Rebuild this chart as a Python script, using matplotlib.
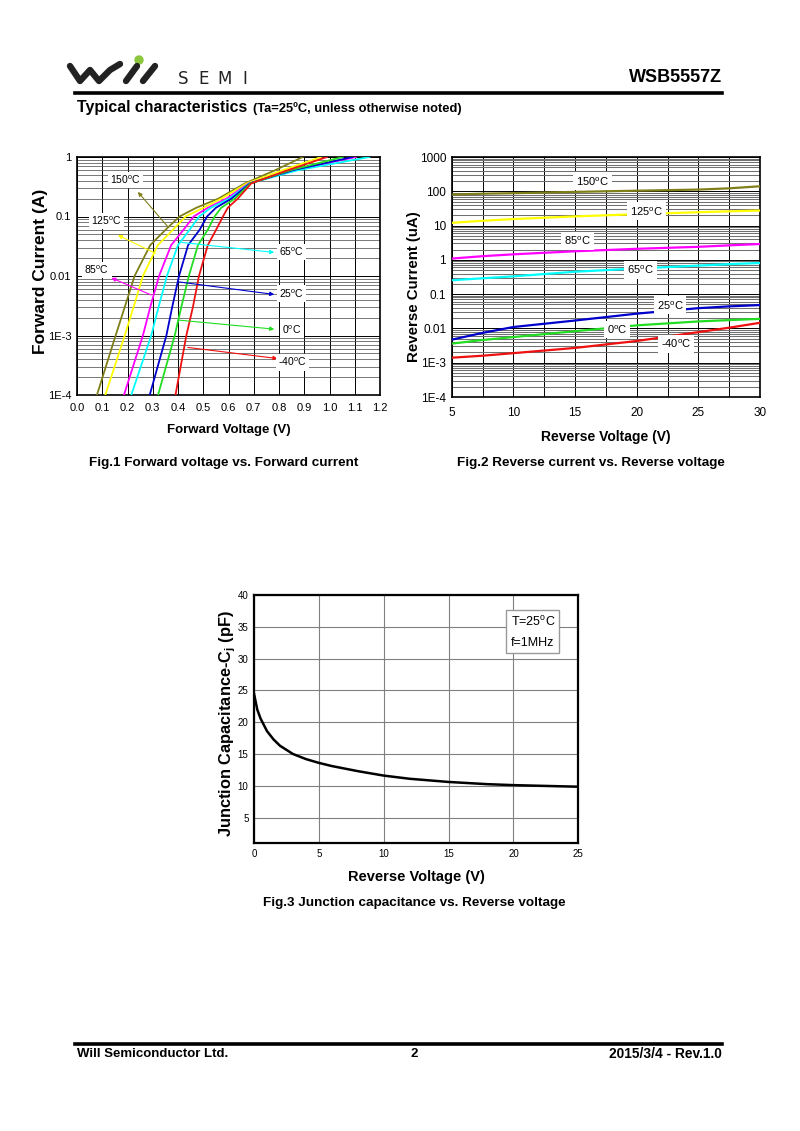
import numpy as np
import matplotlib
matplotlib.use("Agg")
import matplotlib.pyplot as plt
from matplotlib.patches import Circle

plt.rcParams['font.family'] = ['Liberation Sans', 'DejaVu Sans']
plt.rcParams['mathtext.fontset'] = 'custom'
plt.rcParams['mathtext.rm'] = 'Liberation Sans'
plt.rcParams['mathtext.bf'] = 'Liberation Sans:bold'

#%% data read from the datasheet page
# Fig.1 forward current (A) vs forward voltage (V), one voltage list per temperature
fv_current = [1e-4, 1e-3, 3e-3, 0.01, 0.033, 0.06, 0.1, 0.14, 0.2, 0.36, 0.6, 1.0]
fv_150 = [0.079, 0.153, 0.189, 0.228, 0.290, 0.351, 0.406, 0.472, 0.560, 0.665, 0.785, 0.894]
fv_125 = [0.112, 0.189, 0.224, 0.261, 0.320, 0.380, 0.430, 0.500, 0.572, 0.672, 0.815, 0.967]
fv_85 = [0.186, 0.261, 0.290, 0.325, 0.373, 0.422, 0.462, 0.518, 0.592, 0.680, 0.860, 1.105]
fv_65 = [0.215, 0.294, 0.323, 0.356, 0.400, 0.446, 0.484, 0.530, 0.603, 0.683, 0.875, 1.158]
fv_25 = [0.288, 0.354, 0.377, 0.404, 0.440, 0.486, 0.515, 0.550, 0.612, 0.685, 0.855, 1.092]
fv_0 = [0.321, 0.387, 0.413, 0.443, 0.479, 0.518, 0.545, 0.571, 0.625, 0.687, 0.845, 1.053]
fv_m40 = [0.390, 0.433, 0.459, 0.483, 0.518, 0.551, 0.578, 0.597, 0.637, 0.690, 0.835, 0.990]

# Fig.2 reverse current (uA) vs reverse voltage (V)
rv_volt = [5, 7.5, 10, 15, 20, 25, 27.5, 30]
ir_150 = [80, 85, 88, 96, 104, 112, 122, 140]
ir_125 = [12, 13.8, 15.5, 18.5, 21.5, 24.5, 26, 27.5]
ir_85 = [1.09, 1.28, 1.45, 1.78, 2.1, 2.4, 2.65, 2.9]
ir_65 = [0.254, 0.29, 0.33, 0.45, 0.56, 0.68, 0.75, 0.81]
ir_25 = [0.0047, 0.0074, 0.011, 0.017, 0.027, 0.039, 0.044, 0.048]
ir_0 = [0.0036, 0.0046, 0.0056, 0.0083, 0.0123, 0.016, 0.0175, 0.019]
ir_m40 = [0.0014, 0.0016, 0.0019, 0.0027, 0.0043, 0.0078, 0.0105, 0.0146]

# Fig.3 junction capacitance (pF) vs reverse voltage (V)
cj_volt = [0, 0.25, 0.5, 1, 1.5, 2, 3, 4, 5, 6, 8, 10, 12, 15, 18, 20, 22, 25]
cj_pf = [24.5, 22.0, 20.6, 18.6, 17.3, 16.3, 15.0, 14.2, 13.6, 13.1, 12.3, 11.6,
         11.1, 10.6, 10.25, 10.1, 10.0, 9.85]

temps = ['150', '125', '85', '65', '25', '0', '-40']
colors = ['#7f7f1a', '#ffff00', '#ff00ff', '#00ffff', '#0000cc', '#22dd22', '#ee1111']

# label position, arrow head (at label), arrow tail (on curve)
fv_labels = {
    '150': ((0.192, 0.41), (0.241, 0.259), (0.36, 0.067)),
    '125': ((0.116, 0.084), (0.162, 0.0486), (0.311, 0.024)),
    '85': ((0.079, 0.0126), (0.136, 0.0093), (0.294, 0.0048)),
    '65': ((0.851, 0.0255), (0.781, 0.0249), (0.416, 0.0366)),
    '25': ((0.851, 0.0051), (0.781, 0.0049), (0.399, 0.008)),
    '0': ((0.851, 0.00127), (0.781, 0.00128), (0.399, 0.00182)),
    '-40': ((0.854, 3.55e-4), (0.794, 4.1e-4), (0.439, 6.3e-4)),
}
ir_labels = {'150': (16.4, 195), '125': (20.8, 26), '85': (15.2, 3.5), '65': (20.3, 0.52),
             '25': (22.7, 0.047), '0': (18.4, 0.0093), '-40': (23.2, 0.0036)}


def deg(t):
    return t + r'$^{\mathrm{o}}$C'


fig = plt.figure(figsize=(8, 11.31), dpi=100, facecolor='white')

# page decoration in pixel coordinates
page = fig.add_axes([0, 0, 1, 1])
page.set_xlim(0, 800)
page.set_ylim(1131, 0)
page.axis('off')
page.plot([70, 80, 90, 99, 110, 120], [66, 81, 70, 81, 70, 64], color='#222', lw=4.6,
          solid_joinstyle='round', solid_capstyle='round')
page.plot([126, 137], [81, 66], color='#222', lw=4.6, solid_capstyle='round')
page.plot([143, 155], [81, 66], color='#222', lw=4.6, solid_capstyle='round')
page.add_patch(Circle((139, 60), 4, color='#8cc63f'))
for letter, xpos in zip('SEMI', [178, 198, 217, 242]):
    page.text(xpos, 78.5, letter, fontsize=12, va='center', ha='left', color='#222',
              family='DejaVu Sans')
page.text(722, 77, 'WSB5557Z', fontsize=13, fontweight='bold', va='center', ha='right')
page.plot([75, 722], [93, 93], color='black', lw=2.6)
page.text(77, 107.5, 'Typical characteristics', fontsize=11.4, fontweight='bold', va='center')
page.text(253, 108.5, '(Ta=25ºC, unless otherwise noted)', fontsize=9.3, fontweight='bold',
          va='center')
page.plot([75, 722], [1044, 1044], color='black', lw=2.6)
page.text(77, 1054, 'Will Semiconductor Ltd.', fontsize=9.5, fontweight='bold', va='center')
page.text(414, 1054, '2', fontsize=9.5, fontweight='bold', va='center', ha='center')
page.text(722, 1054, '2015/3/4 - Rev.1.0', fontsize=9.9, fontweight='bold', va='center',
          ha='right')
page.text(224, 463, 'Fig.1 Forward voltage vs. Forward current', fontsize=9.7,
          fontweight='bold', ha='center', va='center')
page.text(591, 463, 'Fig.2 Reverse current vs. Reverse voltage', fontsize=9.7,
          fontweight='bold', ha='center', va='center')
page.text(414, 903, 'Fig.3 Junction capacitance vs. Reverse voltage', fontsize=9.7,
          fontweight='bold', ha='center', va='center')

#%% Fig.1
ax1 = fig.add_axes([77 / 800, 1 - 395 / 1131, 303 / 800, 238 / 1131])
ax1.set_yscale('log')
fv_all = [fv_150, fv_125, fv_85, fv_65, fv_25, fv_0, fv_m40]
for t, c, v in zip(temps, colors, fv_all):
    ax1.plot(v, fv_current, color=c, lw=1.3, zorder=3)
for t, c in zip(temps, colors):
    lab, head, tail = fv_labels[t]
    ax1.annotate('', xy=head, xytext=tail, zorder=4,
                 arrowprops=dict(arrowstyle='-|>', color=c, lw=0.8, mutation_scale=6,
                                 shrinkA=0, shrinkB=0))
    ax1.text(lab[0], lab[1], deg(t), fontsize=7.5, ha='center', va='center', zorder=5,
             bbox=dict(facecolor='white', edgecolor='none', pad=1.5))
ax1.set_xlim(0, 1.2)
ax1.set_ylim(1e-4, 1)
ax1.set_xticks(np.arange(0, 1.21, 0.1))
ax1.set_xticklabels([f'{x:.1f}' for x in np.arange(0, 1.21, 0.1)])
ax1.set_yticks([1e-4, 1e-3, 1e-2, 0.1, 1])
ax1.set_yticklabels(['1E-4', '1E-3', '0.01', '0.1', '1'])
ax1.grid(True, which='major', color='black', lw=0.7)
ax1.grid(True, which='minor', axis='y', color='#444', lw=0.5)
ax1.tick_params(which='both', length=0, labelsize=8, pad=4)
ax1.tick_params(axis='x', pad=6)
ax1.tick_params(axis='y', which='minor', labelleft=False)
for s in ax1.spines.values():
    s.set_linewidth(1.2)
ax1.set_xlabel('Forward Voltage (V)', fontsize=9.5, fontweight='bold', labelpad=8)
ax1.set_ylabel('Forward Current (A)', fontsize=12.5, fontweight='bold')
ax1.yaxis.set_label_coords(-0.096, 0.52)

#%% Fig.2
ax2 = fig.add_axes([451.7 / 800, 1 - 397 / 1131, 308.3 / 800, 240 / 1131])
ax2.set_yscale('log')
ir_all = [ir_150, ir_125, ir_85, ir_65, ir_25, ir_0, ir_m40]
for t, c, i in zip(temps, colors, ir_all):
    ax2.plot(rv_volt, i, color=c, lw=1.6, zorder=3)
    x, y = ir_labels[t]
    ax2.text(x, y, deg(t), fontsize=8, ha='center', va='center', zorder=5,
             bbox=dict(facecolor='white', edgecolor='none', pad=2))
ax2.set_xlim(5, 30)
ax2.set_ylim(1e-4, 1000)
ax2.set_xticks([5, 10, 15, 20, 25, 30])
ax2.set_xticks([7.5, 12.5, 17.5, 22.5, 27.5], minor=True)
ax2.set_yticks([1e-4, 1e-3, 1e-2, 0.1, 1, 10, 100, 1000])
ax2.set_yticklabels(['1E-4', '1E-3', '0.01', '0.1', '1', '10', '100', '1000'])
ax2.grid(True, which='major', color='black', lw=0.7)
ax2.grid(True, which='minor', axis='x', color='black', lw=0.7)
ax2.grid(True, which='minor', axis='y', color='#707070', lw=0.75)
ax2.tick_params(which='both', length=0, labelsize=8.5, pad=4)
ax2.tick_params(axis='x', pad=7)
ax2.tick_params(axis='y', which='minor', labelleft=False)
for s in ax2.spines.values():
    s.set_linewidth(1.2)
ax2.set_xlabel('Reverse Voltage (V)', fontsize=10, fontweight='bold', labelpad=8)
ax2.set_ylabel('Reverse Current (uA)', fontsize=10.8, fontweight='bold')
ax2.yaxis.set_label_coords(-0.099, 0.458)

#%% Fig.3
ax3 = fig.add_axes([254 / 800, 1 - 843 / 1131, 324.3 / 800, 248 / 1131])
ax3.plot(cj_volt, cj_pf, color='black', lw=1.8, zorder=3)
ax3.set_xlim(0, 25)
ax3.set_ylim(1, 40)
ax3.set_xticks([0, 5, 10, 15, 20, 25])
ax3.set_yticks([5, 10, 15, 20, 25, 30, 35, 40])
ax3.grid(True, color='#808080', lw=0.8)
ax3.tick_params(length=0, labelsize=7, pad=4)
for s in ax3.spines.values():
    s.set_linewidth(1.6)
ax3.text(0.86, 0.853, 'T=25$^{\\mathrm{o}}$C\nf=1MHz', transform=ax3.transAxes,
         fontsize=9, ha='center', va='center', linespacing=1.9, zorder=5,
         bbox=dict(facecolor='white', edgecolor='#999', pad=3))
ax3.set_xlabel('Reverse Voltage (V)', fontsize=10.5, fontweight='bold', labelpad=8)
ax3.set_ylabel(r'Junction Capacitance-C$_\mathbf{j}$ (pF)', fontsize=11.8,
               fontweight='bold')
ax3.yaxis.set_label_coords(-0.049, 0.48)

fig.savefig('out.png', dpi=100, facecolor='white')
